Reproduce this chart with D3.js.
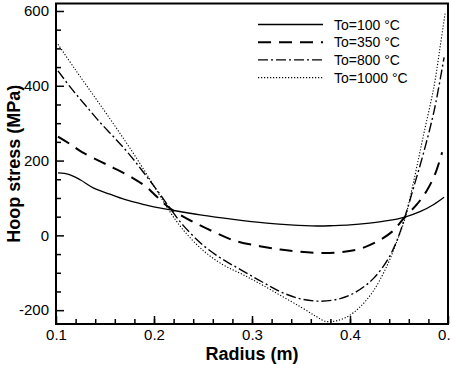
<!DOCTYPE html>
<html>
<head>
<meta charset="utf-8">
<script src="https://cdn.jsdelivr.net/npm/d3@7"></script>
<style>
	body { margin: 0; background: #fff; }
	svg { display: block; }
	.tick text { font-family: "Liberation Sans", Arial, sans-serif; font-size: 15px; fill: #000; }
	.axisTitle { font-family: "Liberation Sans", Arial, sans-serif; font-size: 18px; font-weight: bold; fill: #000; }
	.legendText { font-family: "Liberation Sans", Arial, sans-serif; font-size: 14px; fill: #000; }
</style>
</head>
<body>
<script>
	// data
	var seriesLabels = ["To=100 °C", "To=350 °C", "To=800 °C", "To=1000 °C"];

	var radius100 = [0.102, 0.113, 0.125, 0.138, 0.155, 0.17, 0.19, 0.2, 0.217, 0.247, 0.281, 0.315, 0.339, 0.366, 0.383, 0.4, 0.42, 0.44, 0.456, 0.472, 0.485, 0.496];
	var stress100 = [167, 163, 148, 127, 110, 96, 82, 76, 68, 55, 43, 33, 28, 25, 26, 28, 33, 40, 49, 64, 82, 102];

	var radius350 = [0.102, 0.115, 0.127, 0.145, 0.159, 0.178, 0.193, 0.203, 0.217, 0.234, 0.254, 0.281, 0.308, 0.329, 0.349, 0.37, 0.39, 0.41, 0.428, 0.443, 0.456, 0.468, 0.478, 0.487, 0.494];
	var stress350 = [264, 243, 222, 198, 180, 154, 128, 103, 71, 44, 18, -13, -29, -38, -44, -47, -45, -36, -16, 10, 49, 82, 118, 165, 222];

	var radius800 = [0.102, 0.115, 0.13, 0.145, 0.16, 0.175, 0.19, 0.205, 0.217, 0.23, 0.25, 0.27, 0.29, 0.31, 0.33, 0.35, 0.37, 0.39, 0.407, 0.424, 0.438, 0.448, 0.456, 0.465, 0.475, 0.486, 0.496];
	var stress800 = [440, 395, 348, 302, 260, 216, 166, 114, 70, 26, -26, -64, -94, -124, -152, -170, -176, -169, -150, -115, -67, -13, 49, 129, 220, 335, 476];

	var radius1000 = [0.102, 0.12, 0.14, 0.16, 0.18, 0.2, 0.215, 0.23, 0.25, 0.27, 0.29, 0.31, 0.33, 0.35, 0.365, 0.375, 0.385, 0.397, 0.41, 0.424, 0.438, 0.448, 0.456, 0.465, 0.475, 0.486, 0.492, 0.497];
	var stress1000 = [511, 442, 368, 293, 215, 132, 68, 14, -40, -78, -104, -132, -162, -192, -216, -230, -229, -218, -192, -148, -80, -15, 44, 145, 268, 402, 505, 593];

	var xTicksMajor = [0.1, 0.2, 0.3, 0.4, 0.5];
	var yTicksMajor = [-200, 0, 200, 400, 600];

	var width = 451, height = 365;
	var margin = { top: 3.5, right: 3, bottom: 41, left: 56 };
	var plotW = width - margin.left - margin.right,
		plotH = height - margin.top - margin.bottom;

	var svg = d3.select("body").append("svg")
		.attr("width", width)
		.attr("height", height);

	var g = svg.append("g")
		.attr("transform", "translate(" + margin.left + "," + margin.top + ")");

	var x = d3.scaleLinear().domain([0.1, 0.5]).range([0, plotW]);
	var y = d3.scaleLinear().domain([-237, 620]).range([plotH, 0]);

	// minor ticks (no labels), pointing inward
	g.append("g")
		.attr("transform", "translate(0," + plotH + ")")
		.call(d3.axisBottom(x).tickValues(d3.range(0.12, 0.5, 0.02)).tickSize(-5).tickFormat(""))
		.call(a => a.select(".domain").remove());
	g.append("g")
		.call(d3.axisLeft(y).tickValues(d3.range(-150, 600, 50).filter(v => v % 200 !== 0)).tickSize(-5).tickFormat(""))
		.call(a => a.select(".domain").remove());

	// major ticks with labels
	g.append("g")
		.attr("transform", "translate(0," + plotH + ")")
		.call(d3.axisBottom(x).tickValues(xTicksMajor).tickSize(-8).tickPadding(5).tickFormat(d3.format(".1f")))
		.call(a => a.select(".domain").remove());
	g.append("g")
		.call(d3.axisLeft(y).tickValues(yTicksMajor).tickSize(-8).tickPadding(7).tickFormat(d => String(d)))
		.call(a => a.select(".domain").remove());

	g.selectAll(".tick line").attr("stroke", "#000").attr("stroke-width", 1.5);

	// series
	var lineStyles = [
		{ dash: null, w: 1.3 },
		{ dash: "13,8", w: 2 },
		{ dash: "10,3,2,3", w: 1.4 },
		{ dash: "1.2,1.8", w: 1.1 }
	];
	var seriesData = [
		[radius100, stress100],
		[radius350, stress350],
		[radius800, stress800],
		[radius1000, stress1000]
	];

	var line = d3.line()
		.x(d => x(d[0]))
		.y(d => y(d[1]))
		.curve(d3.curveCatmullRom.alpha(0.5));

	g.append("defs").append("clipPath").attr("id", "plotclip")
		.append("rect").attr("width", plotW).attr("height", plotH);

	var plotArea = g.append("g").attr("clip-path", "url(#plotclip)");
	seriesData.forEach(function(s, i) {
		var pts = s[0].map((r, j) => [r, s[1][j]]);
		plotArea.append("path")
			.datum(pts)
			.attr("fill", "none")
			.attr("stroke", "#000")
			.attr("stroke-width", lineStyles[i].w)
			.attr("stroke-dasharray", lineStyles[i].dash)
			.attr("d", line);
	});

	// frame
	g.append("rect")
		.attr("width", plotW)
		.attr("height", plotH)
		.attr("fill", "none")
		.attr("stroke", "#000")
		.attr("stroke-width", 2);

	// legend
	var legend = g.append("g").attr("transform", "translate(" + (258 - margin.left) + "," + (24.5 - margin.top) + ")");
	seriesLabels.forEach(function(label, i) {
		var row = legend.append("g").attr("transform", "translate(0," + (i * 17.7) + ")");
		row.append("line")
			.attr("x1", 0).attr("x2", 65)
			.attr("stroke", "#000")
			.attr("stroke-width", lineStyles[i].w)
			.attr("stroke-dasharray", lineStyles[i].dash);
		row.append("text")
			.attr("class", "legendText")
			.attr("x", 76)
			.attr("y", 5)
			.text(label);
	});

	// axis titles
	svg.append("text")
		.attr("class", "axisTitle")
		.attr("text-anchor", "middle")
		.attr("x", margin.left + x(0.3))
		.attr("y", 360)
		.text("Radius (m)");

	svg.append("text")
		.attr("class", "axisTitle")
		.attr("text-anchor", "middle")
		.attr("transform", "translate(20," + (margin.top + plotH / 2) + ")rotate(-90)")
		.text("Hoop stress (MPa)");
</script>
</body>
</html>
